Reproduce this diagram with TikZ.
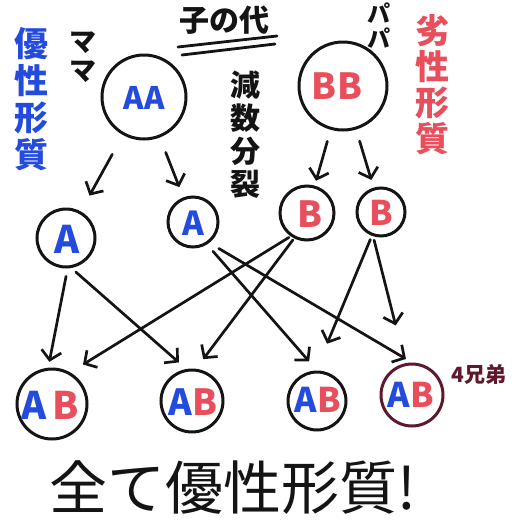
\documentclass[tikz,border=0pt]{standalone}
\usepackage{fontspec}
\setmainfont{Noto Sans}
\newfontfamily\jp{Noto Sans CJK JP}
\usetikzlibrary{arrows.meta}
\definecolor{penblue}{RGB}{35,75,220}
\definecolor{penred}{RGB}{232,78,92}
\definecolor{penmaroon}{RGB}{95,25,45}
\definecolor{penblack}{RGB}{20,20,20}
\tikzset{
  ring/.style={circle, draw=penblack, line width=3pt, inner sep=0pt},
  arr/.style={draw=penblack, line width=2.7pt, line cap=round,
    -{Straight Barb[length=9pt,width=20pt]}},
  vtext/.style={align=center, inner sep=0pt},
}
\begin{document}
\begin{tikzpicture}[x=1pt,y=-1pt]
\useasboundingbox (0,0) rectangle (512,528);
\fill[white] (0,0) rectangle (512,528);

% parents
\node[ring, minimum size=84pt] (AA) at (144,97) {};
\node[text=penblue, font=\jp\bfseries\fontsize{31}{31}\selectfont] (tAA) at (144,98) {AA};
\node[ring, minimum size=88pt] (BB) at (343,86) {};
\node[text=penred, font=\jp\bfseries\fontsize{36}{36}\selectfont] (tBB) at (337,86) {BB};

% gametes
\node[ring, minimum size=58pt] (A1) at (66,238) {};
\node[text=penblue, font=\jp\bfseries\fontsize{38}{38}\selectfont] (tA1) at (67,239) {A};
\node[ring, minimum size=50pt] (A2) at (193,222) {};
\node[text=penblue, font=\jp\bfseries\fontsize{33}{33}\selectfont] (tA2) at (193,223) {A};
\node[ring, minimum size=54pt] (B1) at (307,213) {};
\node[text=penred, font=\jp\bfseries\fontsize{36}{36}\selectfont] (tB1) at (310,214) {B};
\node[ring, minimum size=48pt] (B2) at (381,212) {};
\node[text=penred, font=\jp\bfseries\fontsize{34}{34}\selectfont] (tB2) at (381,213) {B};

% children
\node[ring, minimum size=70pt] (AB1) at (52,404) {};
\node[font=\jp\bfseries\fontsize{38}{38}\selectfont] (tAB1) at (50,405) {\textcolor{penblue}{A}\,\textcolor{penred}{B}};
\node[ring, minimum size=62pt] (AB2) at (192,401) {};
\node[font=\jp\bfseries\fontsize{36}{36}\selectfont] (tAB2) at (193,402) {\textcolor{penblue}{A}\textcolor{penred}{B}};
\node[ring, minimum size=58pt] (AB3) at (317,401) {};
\node[font=\jp\bfseries\fontsize{34}{34}\selectfont] (tAB3) at (318,400) {\textcolor{penblue}{A}\textcolor{penred}{B}};
\node[ring, minimum size=62pt, draw=penmaroon] (AB4) at (412,395) {};
\node[font=\jp\bfseries\fontsize{34}{34}\selectfont] (tAB4) at (411,395) {\textcolor{penblue}{A}\textcolor{penred}{B}};

% arrows parents -> gametes
\draw[arr, shorten <=22pt, shorten >=18pt] (AA) -- (A1);
\draw[arr, shorten <=16pt, shorten >=11pt] (AA) -- (A2);
\draw[arr, shorten <=12pt, shorten >=5pt] (BB) -- (B1);
\draw[arr, shorten <=12pt, shorten >=8pt] (BB) -- (B2);

% arrows gametes -> children
\draw[arr, shorten <=8pt, shorten >=6pt] (A1.-87) -- (AB1.96);
\draw[arr, shorten <=6pt, shorten >=10pt] (A1.-80) -- (AB2.100);
\draw[arr, shorten <=9pt, shorten >=12pt] (A2.-58) -- (AB3.90);
\draw[arr, shorten <=11pt, shorten >=7pt] (A2.-52) -- (AB4.90);
\draw[arr, shorten <=2pt, shorten >=15pt] (B1.-125) -- (AB1.60);
\draw[arr, shorten <=2pt, shorten >=12pt] (B1.-117) -- (AB2.83);
\draw[arr, shorten <=4pt, shorten >=29pt] (B2.-111) -- (AB3.92);
\draw[arr, shorten <=4pt, shorten >=39pt] (B2.-108) -- (AB4.102);

% labels
\node[vtext, text=penblue, font=\jp\bfseries\fontsize{34}{37}\selectfont] (yusei) at (31,99) {優\\性\\形\\質};
\node[vtext, text=penblack, font=\jp\bfseries\fontsize{27}{29}\selectfont] (mama) at (83,57) {マ\\マ};
\node[vtext, text=penblack, font=\jp\bfseries\fontsize{30}{33}\selectfont] (gensu) at (245,135) {減\\数\\分\\裂};
\node[vtext, text=penred, font=\jp\bfseries\fontsize{34}{36}\selectfont] (ressei) at (432,85) {劣\\性\\形\\質};
\node[vtext, text=penblack, font=\jp\bfseries\fontsize{23}{25}\selectfont] (papa) at (379,26) {パ\\パ};
\node[text=penblack, font=\jp\bfseries\fontsize{30}{30}\selectfont] (konodai) at (224,20) {子の代};
\coordinate (u1a) at (178,47); \coordinate (u1b) at (277,36);
\coordinate (u2a) at (182,55); \coordinate (u2b) at (275,44);
\draw[penblack, line width=2.8pt, line cap=round] (u1a) -- (u1b);
\draw[penblack, line width=2.8pt, line cap=round] (u2a) -- (u2b);
\node[text=penmaroon, font=\jp\bfseries\fontsize{21}{21}\selectfont] (kyodai) at (479,374) {4兄弟};
\node[text=penblack, font=\jp\fontsize{58}{58}\selectfont] (subete) at (233,488) {全て優性形質!};
\end{tikzpicture}
\end{document}
